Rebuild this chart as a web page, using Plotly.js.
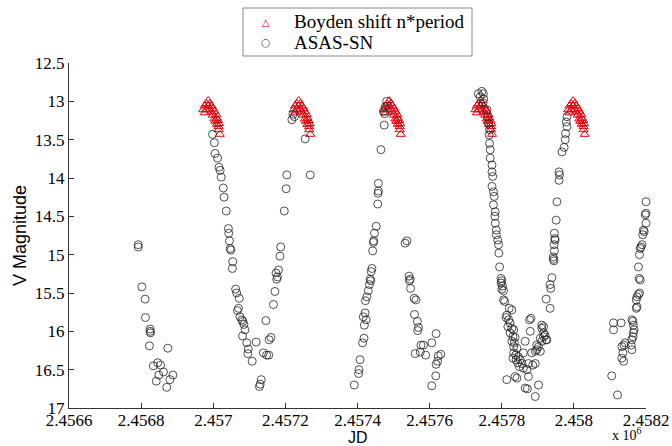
<!DOCTYPE html>
<html>
<head>
<meta charset="utf-8">
<script src="https://cdn.plot.ly/plotly-3.0.1.min.js"></script>
<style>html,body{margin:0;padding:0;background:#fff;}#chart{width:672px;height:446px;}</style>
</head>
<body>
<div id="chart"></div>
<script>
// ASAS-SN observations (JD, V magnitude)
const asasJD = [
  2456792,2456792,2456802,2456811,2456812,2456825,2456825,2456826,2456823,2456834,2456846,2456854,2456849,2456842,2456862,2456874,2456871,2456880,2456888,
  2456998,2457003,2457005,2457012,2457016,2457019,2457022,2457028,2457030,2457036,2457042,2457043,2457045,2457047,2457049,2457054,2457053,2457062,2457065,2457072,2457070,2457067,2457074,2457079,2457082,2457085,2457088,2457081,2457093,2457097,2457096,2457108,2457119,2457133,2457130,2457128,
  2457146,2457139,2457148,2457154,2457155,2457160,2457167,2457171,2457176,2457178,2457181,2457174,2457185,2457187,2457197,2457202,2457204,2457218,2457221,2457225,2457255,2457269,
  2457391,2457403,2457404,2457407,2457414,2457418,2457419,2457424,2457416,2457421,2457422,2457426,2457430,2457433,2457437,2457435,2457438,2457440,2457442,2457444,2457445,2457447,2457452,2457456,2457457,2457458,2457458,2457465,2457474,2457472,2457475,2457477,2457481,
  2457532,2457537,2457543,2457546,2457544,2457547,2457557,2457562,2457558,2457566,2457569,2457567,2457576,2457583,2457574,2457560,2457589,2457618,2457606,2457631,2457624,2457622,2457618,2457617,2457606,
  2457745,2457749,2457735,2457740,2457750,2457748,2457759,2457760,2457763,2457766,2457765,2457766,2457768,2457768,2457773,2457773,2457775,2457773,2457777,2457779,2457777,2457782,2457781,2457782,2457785,2457785,2457789,2457791,2457792,
  2457794,2457798,2457800,2457798,2457802,2457800,2457805,2457805,2457808,2457821,2457828,
  2457814,2457812,2457819,2457823,2457817,2457828,2457833,2457823,2457831,2457837,2457828,2457835,2457833,2457842,2457833,2457839,2457846,2457831,2457840,2457851,2457844,2457856,2457849,2457860,2457870,2457865,2457860,2457883,2457893,2457897,2457907,2457902,2457897,2457911,2457907,2457916,2457920,2457916,2457911,2457879,2457881,2457877,2457874,2457886,2457893,2457837,2457842,2457874,2457865,2457871,2457893,2457902,2457925,2457814,
  2457911,2457916,2457923,2457934,2457923,2457936,2457934,2457939,2457945,2457943,2457943,2457946,2457945,2457948,2457946,2457947,2457951,2457953,2457959,2457960,2457959,2457967,2457973,2457976,2457977,2457981,2457979,2457981,
  2458105,2458121,2458110,2458131,2458110,2458136,2458133,2458138,2458142,2458139,2458133,2458161,2458159,2458161,2458164,2458165,2458167,2458165,2458164,2458161,2458173,2458175,2458173,2458175,2458179,2458182,2458184,2458181,2458179,2458182,2458184,2458186,2458189,2458191,2458195,2458193,2458200,2458198,2458200,2458202,2458200
];
const asasMag = [
  14.87,14.90,15.42,15.58,15.82,15.97,16.00,16.02,16.19,16.45,16.41,16.44,16.57,16.65,16.53,16.22,16.73,16.63,16.57,
  13.43,13.54,13.68,13.74,13.86,13.90,13.99,14.13,14.25,14.43,14.66,14.72,14.82,14.92,14.94,15.09,15.18,15.45,15.50,15.57,15.70,15.73,15.81,15.85,15.87,15.91,15.98,16.06,16.15,16.23,16.29,16.39,16.14,16.63,16.69,16.72,
  15.86,16.28,16.31,16.31,16.11,16.08,15.65,15.48,15.32,15.29,15.20,15.24,15.02,14.90,14.43,14.14,13.96,13.24,13.17,13.20,13.49,13.96,
  16.70,16.55,16.50,16.37,16.15,16.09,15.92,15.85,15.81,15.76,15.60,15.55,15.47,15.39,15.34,15.32,15.22,15.18,14.95,14.84,14.82,14.72,14.63,14.34,14.20,14.17,14.07,13.63,13.31,13.13,13.16,13.07,13.00,
  14.85,14.82,15.28,15.32,15.34,15.44,15.57,15.59,15.78,15.87,15.95,15.99,16.18,16.18,16.27,16.29,16.31,16.03,16.15,16.30,16.32,16.39,16.43,16.58,16.71,
  12.87,12.90,12.90,12.94,12.97,13.02,13.11,13.20,13.29,13.37,13.44,13.55,13.63,13.74,13.83,13.92,13.98,14.11,14.18,14.24,14.35,14.44,14.50,14.59,14.68,14.74,14.81,14.87,14.98,
  15.16,15.31,15.34,15.37,15.41,15.45,15.47,15.59,15.61,15.70,15.72,
  15.79,15.82,15.85,15.89,15.94,15.96,15.98,16.02,16.07,16.08,16.13,16.15,16.20,16.22,16.28,16.31,16.33,16.35,16.37,16.37,16.41,16.42,16.46,16.48,16.50,16.13,16.28,16.28,16.26,16.24,16.26,16.20,16.18,16.13,16.09,16.07,16.05,15.94,15.92,16.00,15.83,15.85,16.42,16.44,16.42,16.59,16.61,16.59,16.74,16.75,16.85,16.70,16.11,16.63,
  15.96,16.02,16.11,15.70,15.58,15.44,15.39,15.30,15.08,15.06,15.03,14.95,14.87,14.81,14.72,14.79,14.55,14.31,14.03,13.96,13.92,13.66,13.60,13.50,13.42,13.33,13.27,13.20,
  16.58,16.83,15.89,15.89,15.98,16.28,16.35,16.39,16.15,16.18,16.20,16.24,16.18,16.11,16.07,16.02,15.98,15.92,15.87,15.85,15.70,15.68,15.59,15.55,15.52,15.50,15.33,15.31,15.16,15.00,14.92,14.90,14.87,14.74,14.70,14.68,14.59,14.48,14.46,14.35,14.31
];

// Boyden light curve shifted by n*period (JD, V magnitude)
const boydenJD = [
  2456972,2456976,2456976,2456981,2456980,2456986,2456986,2456990,2456990,2456995,2456995,2456999,2456999,2457003,2457003,2457008,2457006,2457010,2457010,2457013,2457015,2457016,2457015,2457018,
  2457223,2457227,2457227,2457232,2457231,2457237,2457237,2457241,2457241,2457246,2457246,2457250,2457250,2457254,2457254,2457259,2457257,2457261,2457261,2457264,2457266,2457267,2457266,2457269,
  2457474,2457478,2457478,2457483,2457482,2457488,2457488,2457492,2457492,2457497,2457497,2457501,2457501,2457505,2457505,2457510,2457508,2457512,2457512,2457515,2457517,2457518,2457517,2457520,
  2457727,2457731,2457731,2457736,2457735,2457741,2457741,2457745,2457745,2457750,2457750,2457754,2457754,2457758,2457758,2457763,2457761,2457765,2457765,2457768,2457770,2457771,2457770,2457773,
  2457984,2457988,2457988,2457993,2457992,2457998,2457998,2458002,2458002,2458007,2458007,2458011,2458011,2458015,2458015,2458020,2458018,2458022,2458022,2458025,2458027,2458028,2458027,2458030
];
const boydenMag = [
  13.11,13.15,13.06,13.03,13.11,12.99,13.06,13.03,13.11,13.06,13.14,13.09,13.18,13.13,13.23,13.17,13.26,13.22,13.30,13.25,13.33,13.29,13.37,13.43,
  13.11,13.15,13.06,13.03,13.11,12.99,13.06,13.03,13.11,13.06,13.14,13.09,13.18,13.13,13.23,13.17,13.26,13.22,13.30,13.25,13.33,13.29,13.37,13.43,
  13.11,13.15,13.06,13.03,13.11,12.99,13.06,13.03,13.11,13.06,13.14,13.09,13.18,13.13,13.23,13.17,13.26,13.22,13.30,13.25,13.33,13.29,13.37,13.43,
  13.11,13.15,13.06,13.03,13.11,12.99,13.06,13.03,13.11,13.06,13.14,13.09,13.18,13.13,13.23,13.17,13.26,13.22,13.30,13.25,13.33,13.29,13.37,13.43,
  13.11,13.15,13.06,13.03,13.11,12.99,13.06,13.03,13.11,13.06,13.14,13.09,13.18,13.13,13.23,13.17,13.26,13.22,13.30,13.25,13.33,13.29,13.37,13.43
];

const xTickVals = [2456600,2456800,2457000,2457200,2457400,2457600,2457800,2458000,2458200];
const xTickText = ['2.4566','2.4568','2.457','2.4572','2.4574','2.4576','2.4578','2.458','2.4582'];
const yTickVals = [12.5,13,13.5,14,14.5,15,15.5,16,16.5,17];
const yTickText = ['12.5','13','13.5','14','14.5','15','15.5','16','16.5','17'];
const legendNames = ['Boyden shift n*period', 'ASAS-SN'];

const serif = '"Liberation Serif", "Times New Roman", serif';
const sans = '"Liberation Sans", Arial, sans-serif';

const traces = [
  {
    x: boydenJD, y: boydenMag, type: 'scatter', mode: 'markers',
    name: legendNames[0], cliponaxis: false, showlegend: false,
    marker: {symbol: 'triangle-up-open', size: 8, color: '#e8000b', line: {width: 1, color: '#e8000b'}}
  },
  {
    x: asasJD, y: asasMag, type: 'scatter', mode: 'markers',
    name: legendNames[1], cliponaxis: false, showlegend: false,
    marker: {symbol: 'circle-open', size: 8, color: '#222', line: {width: 0.8, color: '#222'}}
  }
];

// plot area: x 69..646 px, y 63..408 px
const px = v => (v - 69) / 577;
const py = v => (408 - v) / 345;

const layout = {
  width: 672, height: 446,
  margin: {l: 69, r: 26, t: 63, b: 38, pad: 0},
  paper_bgcolor: '#fff', plot_bgcolor: '#fff',
  font: {family: serif, size: 17, color: '#000'},
  showlegend: false,
  xaxis: {
    range: [2456600, 2458200], tickmode: 'array', tickvals: xTickVals, ticktext: xTickText,
    showline: true, linecolor: '#333', linewidth: 1, mirror: false,
    ticks: 'inside', ticklen: 5, tickcolor: '#333', showgrid: false, zeroline: false,
    ticklabelstandoff: -3,
    tickfont: {family: serif, size: 17, color: '#000'}
  },
  yaxis: {
    range: [17, 12.5], tickmode: 'array', tickvals: yTickVals, ticktext: yTickText,
    showline: true, linecolor: '#333', linewidth: 1, mirror: false,
    ticks: 'inside', ticklen: 5, tickcolor: '#333', showgrid: false, zeroline: false,
    tickfont: {family: serif, size: 17, color: '#000'},
    title: {text: 'V Magnitude', font: {family: sans, size: 18, color: '#000'}, standoff: 3}
  },
  shapes: [{
    type: 'rect', xref: 'paper', yref: 'paper',
    x0: px(243), x1: px(472), y0: py(56), y1: py(8),
    line: {color: '#888', width: 1}, fillcolor: '#fff'
  }],
  annotations: [
    {text: '\u25B3', xref: 'paper', yref: 'paper', x: px(266), y: py(22), xanchor: 'center', yanchor: 'middle',
     showarrow: false, font: {family: 'DejaVu Sans', size: 10, color: '#e8000b'}},
    {text: legendNames[0], xref: 'paper', yref: 'paper', x: px(292), y: py(21), xanchor: 'left', yanchor: 'middle',
     showarrow: false, font: {family: serif, size: 19, color: '#000'}},
    {text: '\u25CB', xref: 'paper', yref: 'paper', x: px(266), y: py(43), xanchor: 'center', yanchor: 'middle',
     showarrow: false, font: {family: 'DejaVu Sans', size: 11, color: '#555'}},
    {text: legendNames[1], xref: 'paper', yref: 'paper', x: px(292), y: py(43), xanchor: 'left', yanchor: 'middle',
     showarrow: false, font: {family: serif, size: 19, color: '#000'}},
    {text: 'JD', xref: 'paper', yref: 'paper', x: 0.5, y: py(437.5),
     xanchor: 'center', yanchor: 'middle', showarrow: false,
     font: {family: sans, size: 16, color: '#000'}},
    {text: 'x 10<sup>6</sup>', xref: 'paper', yref: 'paper', x: px(627), y: py(445),
     xanchor: 'center', yanchor: 'bottom', showarrow: false,
     font: {family: serif, size: 14, color: '#000'}}
  ]
};

Plotly.newPlot('chart', traces, layout, {displayModeBar: false, staticPlot: true});
</script>
</body>
</html>
